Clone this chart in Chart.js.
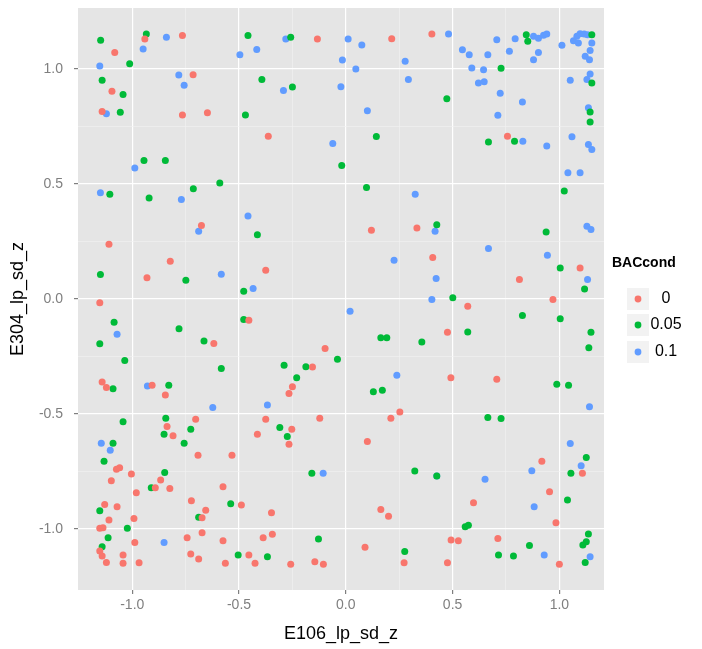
<!DOCTYPE html>
<html>
<head>
<meta charset="utf-8">
<script src="https://cdn.jsdelivr.net/npm/chart.js@4/dist/chart.umd.min.js"></script>
<style>
  html, body { margin: 0; padding: 0; background: #fff; }
</style>
</head>
<body>
<canvas id="bacScatter" width="702" height="649"></canvas>
<script>
// BACcond groups and their hue colours
const groups = ['0', '0.05', '0.1'];
const groupColours = ['#F8766D', '#00BA38', '#619CFF'];

// axis breaks: labelled majors every 0.5, minor lines in between
const gridValues = [-1, -0.75, -0.5, -0.25, 0, 0.25, 0.5, 0.75, 1];
const tickValues = [-1, -0.5, 0, 0.5, 1];
const tickLabels = ['-1.0', '-0.5', '0.0', '0.5', '1.0'];

// BACcond = 0
const bac0X = [-1.082, -1.095, -1.141, -0.941, -0.765, -0.715, -0.765, -0.648, -0.133, 0.215, 0.403, -0.363,
  0.757, -0.676, -1.109, -0.822, -0.931, -1.152, 0.120, 0.333, -0.375, 0.407, 1.097, 0.813, 0.970,
  -1.141, -1.121, -0.907, -0.845, -0.618, -0.454, -0.703, -0.837, -0.809, -0.414,
  -0.097, -0.156, -0.250, -0.266, -0.375, -0.122, 0.253, 0.211, -0.253, -0.266, 0.101,
  0.571, 0.476, 0.492, 0.707,
  -1.074, -1.059, -1.098, -1.004, -0.981, -0.867, -0.892, -0.824, -0.692, -0.533, -0.575, -1.129, -1.071,
  -1.109, -0.992, -0.723, -0.656, -0.673, -0.489, -1.152, -1.137, -0.673, -0.743, -0.575, -0.988, -1.152,
  -1.141, -1.121, -1.043, -1.043, -0.968, -0.726, -0.689, -0.564, -0.454, -0.425,
  -0.348, 0.164, 0.200, -0.387, -0.344, -0.258, -0.145, -0.105, 0.090, 0.273,
  1.108, 0.918, 0.954, 0.598, 0.984, 0.493, 0.527, 0.712, 0.476, 1.000];
const bac0Y = [1.072, 0.903, 0.815, 1.130, 1.145, 0.975, 0.800, 0.810, 1.130, 1.131, 1.152, 0.708,
  0.708, 0.320, 0.238, 0.164, 0.092, -0.016, 0.299, 0.309, 0.125, 0.180, 0.135, 0.085, -0.002,
  -0.361, -0.385, -0.375, -0.417, -0.193, -0.092, -0.523, -0.554, -0.595, -0.588,
  -0.215, -0.296, -0.381, -0.411, -0.523, -0.518, -0.491, -0.518, -0.566, -0.631, -0.620,
  -0.031, -0.144, -0.342, -0.349,
  -0.740, -0.734, -0.790, -0.761, -0.842, -0.787, -0.821, -0.824, -0.679, -0.679, -0.816, -0.893, -0.903,
  -0.961, -0.954, -0.877, -0.918, -0.951, -0.896, -0.997, -0.994, -1.016, -1.038, -1.051, -1.059, -1.095,
  -1.117, -1.145, -1.113, -1.149, -1.146, -1.108, -1.130, -1.149, -1.113, -1.149,
  -0.929, -0.915, -0.944, -1.038, -1.023, -1.153, -1.142, -1.153, -1.079, -1.146,
  -0.758, -0.705, -0.838, -0.886, -0.973, -1.048, -1.051, -1.041, -1.146, -1.153];

// BACcond = 0.05
const bac005X = [-1.148, -1.012, -1.141, -1.043, -1.056, -0.934, -0.458, -0.470, -0.258, -0.393, -0.250, 0.143,
  0.845, 0.852, 1.152, 0.727, 1.152, 0.473, 1.144, 1.144, 0.790, 0.668,
  -0.945, -0.845, -1.105, -0.921, -0.714, -0.590, -1.149, -0.749, -0.478, -0.414, -0.019, 0.097,
  1.023, 0.426, 0.938, 1.004, 1.118, 0.501,
  -1.085, -1.152, -1.035, -1.090, -0.829, -0.781, -0.664, -0.583, -0.478, -1.043, -0.843, -0.726, -0.851,
  -0.757, -1.090,
  0.164, 0.192, 0.356, -0.039, -0.289, -0.187, -0.230, 0.129, 0.171, -0.309, -0.274,
  0.827, 1.004, 0.571, 1.148, 1.138, 0.988, 1.043, 0.665, 0.727,
  -1.132, -0.848, -0.911, -1.152, -0.689, -0.539, -1.023, -1.113, -1.141, -0.504,
  -0.159, 0.323, -0.128, -0.367, 0.276,
  1.126, 1.054, 0.426, 1.038, 0.559, 0.574, 0.860, 1.136, 1.126, 1.110, 0.715, 0.785, 1.121];
const bac005Y = [1.125, 1.023, 0.951, 0.889, 0.812, 1.152, 1.145, 0.800, 1.138, 0.954, 0.922, 0.706,
  1.149, 1.120, 1.149, 1.003, 0.939, 0.871, 0.813, 0.769, 0.686, 0.682,
  0.602, 0.602, 0.455, 0.439, 0.479, 0.504, 0.106, 0.082, 0.034, 0.279, 0.580, 0.485,
  0.469, 0.323, 0.291, 0.135, 0.044, 0.005,
  -0.101, -0.194, -0.267, -0.390, -0.375, -0.129, -0.183, -0.302, -0.089, -0.534, -0.518, -0.566, -0.588,
  -0.627, -0.627,
  -0.168, -0.168, -0.187, -0.262, -0.288, -0.294, -0.342, -0.403, -0.397, -0.559, -0.598,
  -0.072, -0.086, -0.143, -0.144, -0.212, -0.371, -0.375, -0.515, -0.520,
  -0.705, -0.754, -0.821, -0.920, -0.949, -0.890, -0.997, -1.038, -1.077, -1.113,
  -0.758, -0.748, -1.043, -1.120, -1.098,
  -0.689, -0.757, -0.769, -0.874, -0.990, -0.983, -1.072, -1.022, -1.055, -1.069, -1.113, -1.117, -1.145];

// BACcond = 0.1
const bac01X = [-1.152, -1.121, -0.949, -0.840, -0.782, -0.757, -0.496, -0.417,
  -0.281, 0.011, 0.075, -0.016, 0.047, 0.278, 0.293, -0.292, -0.023, 0.101, -0.061,
  0.481, 0.707, 0.793, 0.879, 0.902, 0.926, 0.941, 1.012, 1.066, 1.082, 1.097, 1.116, 1.132, 1.089, 1.152,
  1.144, 1.121, 1.141, 0.546, 0.578, 0.665, 0.766, 0.902, 0.879, 0.590, 0.645, 0.621, 0.648, 1.051, 1.129,
  1.144, 0.723, 0.827, 0.712, 1.136, 1.059, 0.829, 0.941, 1.136, 1.152,
  -0.988, -1.149, -0.770, -0.458, -0.689, -0.583, -0.434, 0.325, 0.226,
  1.040, 1.097, 0.418, 1.129, 1.148, 0.668, 0.944, 0.423, 1.132, 0.403,
  -1.071, -0.929, -0.623, -1.145, 0.020, 0.239, -0.367, 1.141, 1.051, -1.103, -0.851, -0.106,
  1.102, 0.871, 0.426, 0.652, 0.882, 0.929, 1.144];
const bac01Y = [1.013, 0.805, 1.087, 1.138, 0.974, 0.929, 1.062, 1.085,
  1.130, 1.130, 1.104, 1.039, 1.000, 1.033, 0.954, 0.906, 0.923, 0.818, 0.676,
  1.152, 1.127, 1.131, 1.142, 1.134, 1.146, 1.152, 1.103, 1.123, 1.142, 1.153, 1.152, 1.149, 1.113, 1.113,
  1.080, 1.055, 1.040, 1.084, 1.062, 1.062, 1.077, 1.072, 1.040, 1.004, 0.997, 0.939, 0.944, 0.951, 0.954,
  0.978, 0.894, 0.856, 0.799, 0.831, 0.705, 0.686, 0.665, 0.672, 0.650,
  0.569, 0.462, 0.433, 0.361, 0.294, 0.108, 0.046, 0.455, 0.168,
  0.549, 0.549, 0.294, 0.316, 0.302, 0.219, 0.190, 0.089, 0.085, -0.002,
  -0.153, -0.378, -0.472, -0.627, -0.053, -0.332, -0.461, -0.468, -0.628, -0.657, -1.059, -0.758,
  -0.725, -0.747, -0.769, -0.784, -0.903, -1.113, -1.120];

const seriesX = [bac0X, bac005X, bac01X];
const seriesY = [bac0Y, bac005Y, bac01Y];

const FONT = "'Liberation Sans', Arial, Helvetica, sans-serif";
const isMajor = v => Math.abs(v * 2 - Math.round(v * 2)) < 1e-6;

function pairUp(xs, ys) {
  return xs.map((x, i) => ({ x: x, y: ys[i] }));
}

function axisOptions(min, max, titleText, isX) {
  return {
    type: 'linear',
    position: isX ? 'bottom' : 'left',
    min: min,
    max: max,
    afterBuildTicks: scale => {
      scale.ticks = gridValues.map(v => ({ value: v }));
    },
    afterFit: scale => {
      // fixed axis boxes so the panel lands at the same place every time
      if (isX) {
        scale.height = 59;
        scale.paddingLeft = 0;
        scale.paddingRight = 0;
      } else {
        scale.width = 78;
        scale.paddingTop = 0;
        scale.paddingBottom = 0;
      }
    },
    border: { display: false },
    grid: {
      color: ctx => isMajor(ctx.tick.value) ? '#ffffff' : '#f2f2f2',
      lineWidth: ctx => isMajor(ctx.tick.value) ? 1.2 : 0.6,
      tickColor: ctx => isMajor(ctx.tick.value) ? '#7f7f7f' : 'rgba(0,0,0,0)',
      tickLength: 4,
      drawTicks: true
    },
    ticks: {
      autoSkip: false,
      maxRotation: 0,
      padding: isX ? 3 : 11,
      color: '#7f7f7f',
      font: { family: FONT, size: 14 },
      callback: value => {
        const i = tickValues.findIndex(t => Math.abs(t - value) < 1e-6);
        return i >= 0 ? tickLabels[i] : '';
      }
    },
    title: {
      display: true,
      text: titleText,
      color: '#000000',
      font: { family: FONT, size: 18 },
      padding: isX ? { top: 0, bottom: 4 } : { top: 7, bottom: 0 }
    }
  };
}

// grey panel behind the grid
const panelBackground = {
  id: 'panelBackground',
  beforeDraw(chart) {
    const { ctx, chartArea: a } = chart;
    ctx.save();
    ctx.fillStyle = '#e5e5e5';
    ctx.fillRect(a.left, a.top, a.right - a.left, a.bottom - a.top);
    ctx.restore();
  }
};

// legend on the right: bold title, grey key squares with a dot, centred labels
const bacLegend = {
  id: 'bacLegend',
  afterDraw(chart) {
    const ctx = chart.ctx;
    ctx.save();
    ctx.fillStyle = '#000000';
    ctx.font = 'bold 14px ' + FONT;
    ctx.textAlign = 'left';
    ctx.textBaseline = 'middle';
    ctx.fillText('BACcond', 612, 263);
    const rowY = [299, 325, 352];
    groups.forEach((g, i) => {
      const cy = rowY[i];
      ctx.fillStyle = '#f2f2f2';
      ctx.fillRect(626, cy - 12, 24, 24);
      ctx.strokeStyle = '#ffffff';
      ctx.lineWidth = 1;
      ctx.strokeRect(626.5, cy - 11.5, 23, 23);
      ctx.beginPath();
      ctx.arc(638, cy, 3.4, 0, Math.PI * 2);
      ctx.fillStyle = chart.data.datasets[i].backgroundColor;
      ctx.fill();
      ctx.fillStyle = '#000000';
      ctx.font = '16px ' + FONT;
      ctx.textAlign = 'center';
      ctx.fillText(g, 666, cy);
    });
    ctx.restore();
  }
};

new Chart(document.getElementById('bacScatter'), {
  type: 'scatter',
  data: {
    datasets: groups.map((g, i) => ({
      label: g,
      data: pairUp(seriesX[i], seriesY[i]),
      backgroundColor: groupColours[i],
      borderWidth: 0,
      pointRadius: 3.5,
      pointHoverRadius: 3.5
    }))
  },
  options: {
    responsive: false,
    animation: false,
    devicePixelRatio: 1,
    layout: { padding: { left: 0, right: 98, top: 8, bottom: 0 } },
    plugins: {
      legend: { display: false },
      tooltip: { enabled: false }
    },
    scales: {
      x: axisOptions(-1.254, 1.209, 'E106_lp_sd_z', true),
      y: axisOptions(-1.265, 1.265, 'E304_lp_sd_z', false)
    }
  },
  plugins: [panelBackground, bacLegend]
});
</script>
</body>
</html>
